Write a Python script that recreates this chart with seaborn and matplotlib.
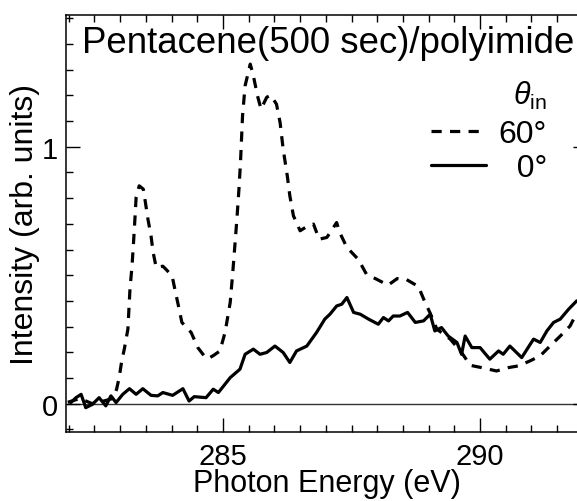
import matplotlib
matplotlib.use("Agg")
import matplotlib.pyplot as plt
from matplotlib.lines import Line2D
from matplotlib.ticker import MultipleLocator, FixedLocator
import numpy as np
import pandas as pd
import seaborn as sns

# ---- data ----
energy_60 = [281.98, 282.22, 282.45, 282.68, 282.86, 282.93, 282.98, 283.03, 283.08, 283.15,
             283.19, 283.23, 283.26, 283.29, 283.31, 283.37, 283.45, 283.49, 283.54, 283.60,
             283.64, 283.70, 283.83, 283.89, 284.01, 284.07, 284.14, 284.20, 284.38, 284.51,
             284.66, 284.71, 284.82, 284.94, 285.04, 285.14, 285.19, 285.23, 285.27, 285.31,
             285.34, 285.36, 285.38, 285.43, 285.53, 285.59, 285.67, 285.74, 285.85, 285.93,
             286.04, 286.11, 286.17, 286.25, 286.30, 286.37, 286.50, 286.61, 286.76, 286.87,
             287.02, 287.21, 287.27, 287.41, 287.63, 287.79, 287.99, 288.21, 288.39, 288.56,
             288.80, 288.93, 289.03, 289.16, 289.42, 289.64, 289.81, 290.03, 290.32, 290.55,
             290.75, 290.97, 291.17, 291.36, 291.56, 291.75, 291.89]
intensity_60 = [0.005, 0.02, 0.00, 0.01, 0.02, 0.056, 0.101, 0.166, 0.212, 0.290,
                0.445, 0.536, 0.629, 0.731, 0.804, 0.848, 0.835, 0.784, 0.718, 0.653,
                0.590, 0.530, 0.535, 0.523, 0.497, 0.439, 0.374, 0.316, 0.277, 0.218,
                0.179, 0.175, 0.188, 0.205, 0.277, 0.394, 0.511, 0.614, 0.718, 0.835,
                0.939, 1.030, 1.121, 1.238, 1.322, 1.277, 1.199, 1.147, 1.193, 1.201,
                1.166, 1.095, 0.991, 0.887, 0.809, 0.731, 0.673, 0.687, 0.699, 0.640,
                0.647, 0.705, 0.666, 0.608, 0.562, 0.504, 0.484, 0.461, 0.487, 0.484,
                0.456, 0.394, 0.352, 0.290, 0.251, 0.199, 0.149, 0.140, 0.127, 0.140,
                0.147, 0.166, 0.186, 0.224, 0.263, 0.302, 0.356]

energy_0 = [282.04, 282.14, 282.24, 282.33, 282.46, 282.59, 282.72, 282.82, 282.92, 283.05,
            283.18, 283.31, 283.44, 283.60, 283.73, 283.83, 284.02, 284.22, 284.34, 284.44,
            284.67, 284.81, 284.91, 285.14, 285.33, 285.43, 285.59, 285.72, 285.85, 286.01,
            286.17, 286.30, 286.43, 286.63, 286.82, 286.98, 287.08, 287.21, 287.31, 287.41,
            287.54, 287.67, 287.83, 288.02, 288.12, 288.22, 288.31, 288.44, 288.59, 288.74,
            288.90, 289.03, 289.12, 289.25, 289.38, 289.55, 289.64, 289.71, 289.84, 290.00,
            290.19, 290.36, 290.45, 290.58, 290.81, 291.04, 291.17, 291.30, 291.43, 291.56,
            291.72, 291.88]
intensity_0 = [0.004, 0.023, 0.036, -0.016, -0.003, 0.023, -0.009, 0.030, 0.004, 0.036,
               0.058, 0.036, 0.058, 0.032, 0.030, 0.043, 0.032, 0.058, 0.010, 0.027,
               0.023, 0.056, 0.043, 0.101, 0.134, 0.192, 0.212, 0.192, 0.199, 0.224,
               0.199, 0.160, 0.205, 0.224, 0.277, 0.329, 0.348, 0.380, 0.387, 0.413,
               0.355, 0.348, 0.329, 0.309, 0.335, 0.322, 0.341, 0.341, 0.355, 0.316,
               0.322, 0.348, 0.283, 0.296, 0.263, 0.238, 0.192, 0.263, 0.218, 0.218,
               0.173, 0.205, 0.192, 0.224, 0.179, 0.251, 0.238, 0.283, 0.316, 0.329,
               0.367, 0.400]

angle_labels = ["60°", "0°"]
title_text = "Pentacene(500 sec)/polyimide"
x_label = "Photon Energy (eV)"
y_label = "Intensity (arb. units)"
x_major = [285, 290]
y_major = [0, 1]

# ---- style ----
sns.set_style("ticks")
plt.rcParams["font.family"] = ["Liberation Sans", "DejaVu Sans"]
plt.rcParams["mathtext.fontset"] = "custom"
plt.rcParams["mathtext.rm"] = "Liberation Sans"
plt.rcParams["mathtext.it"] = "Liberation Sans:italic"
for k in ["text.color", "axes.labelcolor", "xtick.color", "ytick.color",
          "xtick.labelcolor", "ytick.labelcolor"]:
    plt.rcParams[k] = "black"

df = pd.concat([
    pd.DataFrame({"Energy": energy_60, "Intensity": intensity_60, "angle": angle_labels[0]}),
    pd.DataFrame({"Energy": energy_0, "Intensity": intensity_0, "angle": angle_labels[1]}),
], ignore_index=True)

W, H = 577, 502
fig = plt.figure(figsize=(W / 100, H / 100), dpi=100)
L, R, T, B = 66, 587, 16, 433
ax = fig.add_axes([L / W, 1 - B / H, (R - L) / W, (B - T) / H])

LW = 2.3
DASH = (3.2, 2.6)
sns.lineplot(data=df, x="Energy", y="Intensity", style="angle",
             style_order=angle_labels, dashes={angle_labels[0]: DASH, angle_labels[1]: ""},
             color="black", lw=LW, sort=False, estimator=None, legend=False, ax=ax)

ax.axhline(0, color="#333333", lw=1.0, zorder=0)

ax.set_xlim(281.946, 292.08)
ax.set_ylim(-0.1107, 1.5133)

ax.xaxis.set_major_locator(FixedLocator(x_major))
ax.xaxis.set_minor_locator(MultipleLocator(0.5))
ax.yaxis.set_major_locator(FixedLocator(y_major))
ax.yaxis.set_minor_locator(MultipleLocator(0.1))
ax.tick_params(which="both", direction="in", top=True, right=True, width=1.0,
               color="black", labelsize=21)
ax.tick_params(axis="x", which="both", pad=7)
ax.tick_params(axis="y", which="both", pad=6)
ax.tick_params(which="major", length=10)
ax.tick_params(which="minor", length=5)
for s in ax.spines.values():
    s.set_linewidth(1.1)
    s.set_color("black")

ax.set_xlabel(x_label, fontsize=22, labelpad=-1.5)
ax.set_ylabel(y_label, fontsize=23, labelpad=1)

ax.text((81.7 - L) / (R - L), (B - 53.3) / (B - T), title_text, transform=ax.transAxes,
        fontsize=26.4, ha="left", va="baseline")

handles = [Line2D([], [], color="black", lw=LW, dashes=DASH),
           Line2D([], [], color="black", lw=LW)]
leg = ax.legend(handles, ["60°", "  0°"], title=r"$\theta_{\rm in}$",
                loc="upper right", bbox_to_anchor=((547 - L) / (R - L), (B - 80) / (B - T)),
                frameon=False, alignment="right", fontsize=23, title_fontsize=22,
                handlelength=1.72, handletextpad=0.4, labelspacing=0.12,
                borderpad=0, borderaxespad=0)
leg._legend_box.sep = 6

fig.savefig("out.png", dpi=100)
